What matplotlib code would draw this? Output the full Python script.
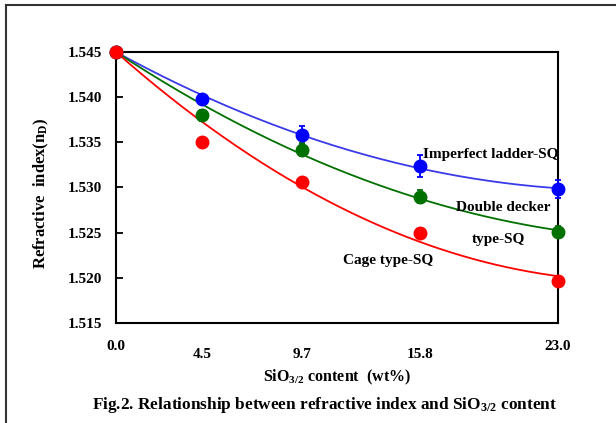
import numpy as np
import matplotlib
matplotlib.use("Agg")
import matplotlib.pyplot as plt
from matplotlib.lines import Line2D

plt.rcParams['font.family'] = ['Liberation Serif', 'DejaVu Serif']
plt.rcParams['font.weight'] = 'bold'
plt.rcParams['mathtext.fontset'] = 'custom'
plt.rcParams['mathtext.rm'] = 'Liberation Serif:bold'
plt.rcParams['mathtext.it'] = 'Liberation Serif:bold'

# SiO3/2 content (wt%)
sio_content = [0.0, 4.5, 9.7, 15.8, 23.0]

# refractive index for each cage type
ladder = [1.545, 1.5398, 1.5358, 1.5324, 1.5298]
ladder_err = [0.0, 0.0006, 0.0010, 0.0012, 0.0010]
double_decker = [1.545, 1.5380, 1.5342, 1.5290, 1.5251]
double_err = [0.0, 0.0006, 0.0007, 0.0007, 0.0006]
cage = [1.545, 1.5350, 1.5306, 1.5250, 1.5197]
cage_err = [0.0, 0.0004, 0.0004, 0.0004, 0.0005]

yticks = [1.515, 1.520, 1.525, 1.530, 1.535, 1.540, 1.545]

fig = plt.figure(figsize=(6.16, 4.23), dpi=100)
ax = fig.add_axes([116/616, 1-323/423, (558-116)/616, (323-52)/423])

series = [
    (ladder, ladder_err, 'blue', '#3a3ae8'),
    (double_decker, double_err, '#007000', '#007000'),
    (cage, cage_err, 'red', 'red'),
]
xs = np.linspace(0, 23, 200)
for vals, err, mcol, lcol in series:
    # order 2 trendline, intercept set to first value
    x = np.array(sio_content)
    y = np.array(vals) - vals[0]
    A = np.column_stack([x, x**2])
    b, c = np.linalg.lstsq(A, y, rcond=None)[0]
    ax.plot(xs, vals[0] + b*xs + c*xs**2, color=lcol, lw=1.3, zorder=2, clip_on=False)
for vals, err, mcol, lcol in series:
    ax.errorbar(sio_content, vals, yerr=err, fmt='o', color=mcol, ms=9,
                elinewidth=1.3, capsize=2.5, capthick=1.3, zorder=3, clip_on=False)

ax.set_xlim(0, 23)
ax.set_ylim(1.515, 1.545)
ax.set_yticks(yticks)
ax.set_yticklabels(['%.3f' % v for v in yticks])
ax.tick_params(axis='y', direction='in', length=5, width=1.3, labelsize=11, pad=10)

# staggered x labels
ax.set_xticks([0.0, 23.0])
ax.set_xticklabels(['0.0', '23.0'])
ax.set_xticks([4.5, 9.7, 15.8], minor=True)
ax.set_xticklabels(['4.5', '9.7', '15.8'], minor=True)
ax.tick_params(axis='x', which='major', length=0, labelsize=11, pad=12)
ax.tick_params(axis='x', which='minor', length=0, labelsize=11, pad=18)

for s in ax.spines.values():
    s.set_linewidth(1.5)

ax.set_xlabel('SiO$_{3/2}$ content  (wt%)', fontsize=11.5, fontweight='bold', labelpad=5)
ax.set_ylabel('Refractive  index(n$_{D}$)', fontsize=12, fontweight='bold')
ax.yaxis.set_label_coords(-0.148, 0.48)

ax.text(16.0, 1.5337, 'Imperfect ladder-SQ', fontsize=11, fontweight='bold', va='center')
ax.text(17.7, 1.5278, 'Double decker', fontsize=11, fontweight='bold', va='center')
ax.text(18.5, 1.5242, 'type-SQ', fontsize=11, fontweight='bold', va='center')
ax.text(11.8, 1.5219, 'Cage type-SQ', fontsize=11, fontweight='bold', va='center')

fig.text(325/616, 1-405/423, 'Fig.2. Relationship between refractive index and SiO$_{3/2}$ content',
         ha='center', va='center', fontsize=12.4, fontweight='bold')

# frame around the figure (cropped)
x0, y0 = 6/616, 1-5/423
fig.add_artist(Line2D([x0, x0], [0, y0], color='#333333', lw=1.5, transform=fig.transFigure))
fig.add_artist(Line2D([x0, 1], [y0, y0], color='#333333', lw=1.5, transform=fig.transFigure))

fig.savefig('out.png', dpi=100)
